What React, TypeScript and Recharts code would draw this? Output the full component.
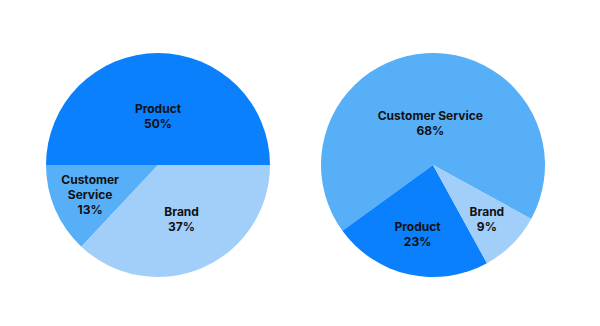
import React from "react";
import { Pie, PieChart, Cell } from "recharts";

// left pie
const leftCategories = ["Product", "Customer Service", "Brand"];
const leftLabels = ["Product", "Customer\nService", "Brand"];
const leftValues = [50, 13, 37];

// right pie
const rightCategories = ["Customer Service", "Product", "Brand"];
const rightLabels = ["Customer Service", "Product", "Brand"];
const rightValues = [68, 23, 9];

const COLORS: Record<string, string> = {
  Product: "#0a80fc",
  "Customer Service": "#57aff8",
  Brand: "#a2cffa",
};

// how far out (fraction of radius) each label sits
const leftLabelRadius = [0.44, 0.66, 0.53];
const rightLabelRadius = [0.375, 0.63, 0.68];

const RADIAN = Math.PI / 180;
const LINE_HEIGHT = 15;

const makeLabel =
  (labels: string[], radii: number[]) =>
  (props: any) => {
    const { cx, cy, midAngle, outerRadius, index, value } = props;
    const r = outerRadius * radii[index];
    const x = cx + r * Math.cos(-midAngle * RADIAN);
    const y = cy + r * Math.sin(-midAngle * RADIAN);
    const lines = [...labels[index].split("\n"), `${value}%`];
    const top = y - ((lines.length - 1) * LINE_HEIGHT) / 2;
    return (
      <g>
        {lines.map((line, i) => (
          <text
            key={i}
            x={x}
            y={top + i * LINE_HEIGHT}
            textAnchor="middle"
            dominantBaseline="central"
            fill="#111"
            fontFamily="Inter, sans-serif"
            fontWeight={700}
            fontSize={12}
          >
            {line}
          </text>
        ))}
      </g>
    );
  };

const leftData = leftCategories.map((name, i) => ({ name, value: leftValues[i] }));
const rightData = rightCategories.map((name, i) => ({ name, value: rightValues[i] }));

export default function App() {
  return (
    <div style={{ position: "absolute", left: 0, top: 0, background: "#fff" }}>
      <PieChart
        width={600}
        height={326}
        margin={{ top: 0, right: 0, bottom: 0, left: 0 }}
      >
        <Pie
          data={leftData}
          dataKey="value"
          nameKey="name"
          cx={158}
          cy={165}
          outerRadius={112}
          startAngle={0}
          endAngle={360}
          stroke="none"
          label={makeLabel(leftLabels, leftLabelRadius)}
          labelLine={false}
          isAnimationActive={false}
        >
          {leftData.map((d) => (
            <Cell key={d.name} fill={COLORS[d.name]} />
          ))}
        </Pie>
        <Pie
          data={rightData}
          dataKey="value"
          nameKey="name"
          cx={433}
          cy={165}
          outerRadius={112}
          startAngle={-28.8}
          endAngle={331.2}
          stroke="none"
          label={makeLabel(rightLabels, rightLabelRadius)}
          labelLine={false}
          isAnimationActive={false}
        >
          {rightData.map((d) => (
            <Cell key={d.name} fill={COLORS[d.name]} />
          ))}
        </Pie>
      </PieChart>
    </div>
  );
}
